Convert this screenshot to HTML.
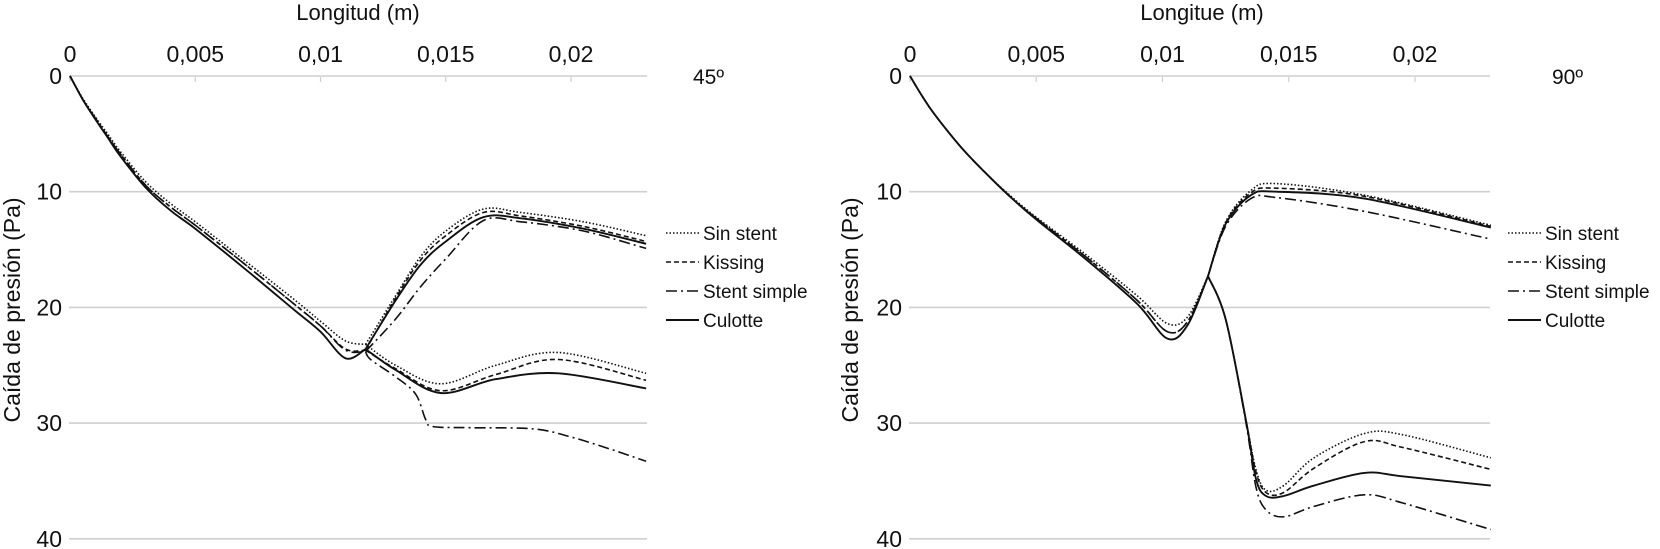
<!DOCTYPE html>
<html><head><meta charset="utf-8">
<style>
html,body{margin:0;padding:0;background:#fff;}
svg{display:block;font-family:"Liberation Sans",Arial,sans-serif;}
</style></head>
<body>
<svg id="chart" width="1660" height="549" viewBox="0 0 1660 549"></svg>
<script>
// ---- shared ticks ----
const xTicks = [0, 0.005, 0.01, 0.015, 0.02];
const xTickLabels = ["0", "0,005", "0,01", "0,015", "0,02"];
const yTicks = [0, 10, 20, 30, 40];
const yTickLabels = ["0", "10", "20", "30", "40"];
const seriesNames = ["Sin stent", "Kissing", "Stent simple", "Culotte"];

// ---- 45º chart data ----
const a45_common_x = [0, 0.0005, 0.001, 0.0015, 0.002, 0.003, 0.004, 0.005, 0.007, 0.009, 0.010, 0.011, 0.0118];
const a45_sin_common = [0, 1.9, 3.5, 5.0, 6.5, 9.1, 11.0, 12.6, 16.0, 19.4, 21.2, 22.9, 23.2];
const a45_kis_common = [0, 2.0, 3.6, 5.2, 6.7, 9.4, 11.3, 12.9, 16.3, 19.8, 21.6, 23.6, 23.7];
const a45_ss_common = [0, 2.0, 3.6, 5.2, 6.7, 9.4, 11.3, 12.9, 16.3, 19.8, 21.6, 23.7, 23.8];
const a45_cul_common = [0, 2.0, 3.7, 5.3, 6.9, 9.6, 11.6, 13.2, 16.7, 20.3, 22.1, 24.4, 23.6];
const a45_up_x = [0.0118, 0.013, 0.014, 0.015, 0.0165, 0.018, 0.0205, 0.023];
const a45_sin_up = [23.2, 19.0, 15.6, 13.4, 11.5, 11.8, 12.6, 13.8];
const a45_kis_up = [23.7, 19.2, 15.9, 13.8, 11.8, 12.1, 13.0, 14.3];
const a45_ss_up = [23.8, 21.0, 18.2, 15.8, 12.5, 12.6, 13.4, 14.9];
const a45_cul_up = [23.6, 19.4, 16.3, 14.3, 12.2, 12.3, 13.2, 14.5];
const a45_lo_x = [0.0118, 0.013, 0.0148, 0.017, 0.0195, 0.023];
const a45_sin_lo = [23.2, 25.0, 26.6, 25.0, 23.9, 25.7];
const a45_kis_lo = [23.7, 25.3, 27.2, 25.8, 24.5, 26.3];
const a45_cul_lo = [23.6, 25.4, 27.4, 26.2, 25.7, 27.0];
const a45_ss_lo_x = [0.0118, 0.012, 0.013, 0.0138, 0.0142, 0.0145, 0.016, 0.0185, 0.02, 0.0215, 0.023];
const a45_ss_lo = [23.8, 24.5, 26.0, 27.5, 29.7, 30.3, 30.4, 30.5, 31.2, 32.2, 33.3];

// ---- 90º chart data ----
const a90_common_x = [0, 0.0005, 0.001, 0.002, 0.003, 0.004, 0.005, 0.007, 0.009, 0.0102, 0.011, 0.0118];
const a90_sin_common = [0, 1.8, 3.4, 6.1, 8.4, 10.4, 12.2, 15.5, 19.0, 21.4, 20.8, 17.3];
const a90_kis_common = [0, 1.8, 3.4, 6.1, 8.4, 10.5, 12.3, 15.7, 19.4, 22.1, 21.2, 17.3];
const a90_ss_common = [0, 1.8, 3.4, 6.1, 8.4, 10.5, 12.3, 15.7, 19.4, 22.1, 21.2, 17.3];
const a90_cul_common = [0, 1.8, 3.4, 6.1, 8.4, 10.5, 12.4, 15.9, 19.7, 22.7, 21.5, 17.3];
const a90_up_x = [0.0118, 0.0125, 0.0135, 0.0145, 0.018, 0.023];
const a90_sin_up = [17.3, 12.6, 9.9, 9.3, 10.3, 12.9];
const a90_kis_up = [17.3, 12.7, 10.1, 9.7, 10.4, 13.0];
const a90_ss_up = [17.3, 13.0, 10.6, 10.5, 11.7, 14.1];
const a90_cul_up = [17.3, 12.8, 10.3, 10.0, 10.6, 13.1];
const a90_lo_x = [0.0118, 0.0125, 0.0133, 0.0137, 0.0141, 0.0148, 0.016, 0.018, 0.0195, 0.023];
const a90_sin_lo = [17.3, 21.0, 29.7, 34.0, 35.8, 35.4, 33.0, 30.9, 31.0, 33.0];
const a90_kis_lo = [17.3, 21.0, 29.7, 34.2, 36.0, 36.0, 33.9, 31.6, 32.1, 34.0];
const a90_ss_lo = [17.3, 21.0, 29.9, 35.5, 37.5, 38.1, 37.2, 36.2, 36.9, 39.2];
const a90_cul_lo = [17.3, 21.0, 29.7, 34.8, 36.3, 36.3, 35.4, 34.3, 34.6, 35.4];

const NS = "http://www.w3.org/2000/svg";
const svg = document.getElementById("chart");
const dashes = ["1.5,2", "5,3", "11,4,2,4", ""];
const widths = [1.6, 1.6, 1.6, 1.9];

function mk(tag, attrs, parent) {
  const e = document.createElementNS(NS, tag);
  for (const k in attrs) e.setAttribute(k, attrs[k]);
  (parent || svg).appendChild(e);
  return e;
}
function pathFrom(xs, ys, sx, sy) {
  const p = xs.map((x, i) => [sx(x), sy(ys[i])]);
  let d = "M" + p[0][0].toFixed(1) + "," + p[0][1].toFixed(1);
  for (let i = 0; i < p.length - 1; i++) {
    const p0 = p[Math.max(0, i - 1)], p1 = p[i], p2 = p[i + 1], p3 = p[Math.min(p.length - 1, i + 2)];
    const c1x = p1[0] + (p2[0] - p0[0]) / 6, c1y = p1[1] + (p2[1] - p0[1]) / 6;
    const c2x = p2[0] - (p3[0] - p1[0]) / 6, c2y = p2[1] - (p3[1] - p1[1]) / 6;
    d += " C" + c1x.toFixed(1) + "," + c1y.toFixed(1) + " " + c2x.toFixed(1) + "," + c2y.toFixed(1) + " " + p2[0].toFixed(1) + "," + p2[1].toFixed(1);
  }
  return d;
}

function drawChart(cfg) {
  const g = mk("g", {});
  
  
  const sx = x => cfg.x0 + x * cfg.kx;
  const sy = y => 76 + y * 11.57;
  yTicks.forEach((t, i) => {
    const l = mk("line", {x1: cfg.x0 - 1, x2: cfg.xEnd, y1: sy(t), y2: sy(t), stroke: "#cfcfcf", "stroke-width": 1.6}, g);
    
    
    const tx = mk("text", {x: cfg.x0 - 8, y: sy(t) + 8, "text-anchor": "end", "font-size": 23, fill: "#111"}, g);
    tx.textContent = yTickLabels[i];
    
    
  });
  xTicks.forEach((t, i) => {
    const tk = mk("line", {x1: sx(t), x2: sx(t), y1: 77, y2: 82, stroke: "#cfcfcf", "stroke-width": 1.2}, g);
    
    
    const tx = mk("text", {x: sx(t), y: 62, "text-anchor": "middle", "font-size": 23, fill: "#111"}, g);
    tx.textContent = xTickLabels[i];
    
    
  });
  const xt = mk("text", {x: cfg.titleX, y: 20, "text-anchor": "middle", "font-size": 22, fill: "#111"}, g);
  xt.textContent = cfg.xTitle;
  
  
  const yt = mk("text", {x: 0, y: 0, "text-anchor": "middle", "font-size": 23, fill: "#111", transform: "translate(" + cfg.yTitleX + ",310) rotate(-90)"}, g);
  yt.textContent = "Caída de presión (Pa)";
  
  
  const ang = mk("text", {x: cfg.angleX, y: 84, "font-size": 21, fill: "#111"}, g);
  ang.textContent = cfg.angle;
  
  
  cfg.series.forEach((segs, si) => {
    segs.forEach(seg => {
      const p = mk("path", {d: pathFrom(seg[0], seg[1], sx, sy), fill: "none", stroke: "#111", "stroke-width": widths[si], "stroke-dasharray": dashes[si], "stroke-linejoin": "round"}, g);
      
      
    });
  });
  seriesNames.forEach((n, i) => {
    const y = 233 + i * 29;
    const ln = mk("line", {x1: cfg.legX, x2: cfg.legX + 33, y1: y, y2: y, stroke: "#111", "stroke-width": widths[i], "stroke-dasharray": dashes[i]}, g);
    
    
    const t = mk("text", {x: cfg.legX + 37, y: y + 7, "font-size": 19, fill: "#111"}, g);
    t.textContent = n;
    
    
  });
}

drawChart({
  name: "chart-45", x0: 70, kx: 25050, xEnd: 647, titleX: 358, xTitle: "Longitud (m)", yTitleX: 20, angleX: 693, angle: "45º", legX: 666,
  series: [
    [[a45_common_x, a45_sin_common], [a45_up_x, a45_sin_up], [a45_lo_x, a45_sin_lo]],
    [[a45_common_x, a45_kis_common], [a45_up_x, a45_kis_up], [a45_lo_x, a45_kis_lo]],
    [[a45_common_x, a45_ss_common], [a45_up_x, a45_ss_up], [a45_ss_lo_x, a45_ss_lo]],
    [[a45_common_x, a45_cul_common], [a45_up_x, a45_cul_up], [a45_lo_x, a45_cul_lo]]
  ]
});
drawChart({
  name: "chart-90", x0: 910, kx: 25250, xEnd: 1490, titleX: 1202, xTitle: "Longitue (m)", yTitleX: 858, angleX: 1552, angle: "90º", legX: 1508,
  series: [
    [[a90_common_x, a90_sin_common], [a90_up_x, a90_sin_up], [a90_lo_x, a90_sin_lo]],
    [[a90_common_x, a90_kis_common], [a90_up_x, a90_kis_up], [a90_lo_x, a90_kis_lo]],
    [[a90_common_x, a90_ss_common], [a90_up_x, a90_ss_up], [a90_lo_x, a90_ss_lo]],
    [[a90_common_x, a90_cul_common], [a90_up_x, a90_cul_up], [a90_lo_x, a90_cul_lo]]
  ]
});
</script>
</body></html>
